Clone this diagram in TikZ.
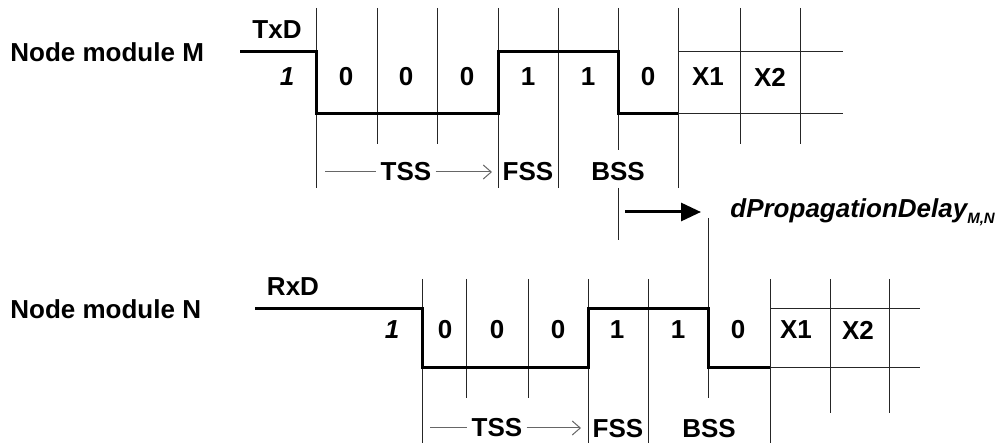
\documentclass[tikz,border=0pt]{standalone}
\usepackage{fontspec}
\setmainfont{Liberation Sans}
\usetikzlibrary{arrows.meta}
\tikzstyle{sig}=[line width=1.5pt]
\tikzstyle{grid}=[line width=0.5pt,draw=black!85]
\tikzstyle{span}=[line width=0.5pt,draw=black!60]
\tikzstyle{lbl}=[inner sep=0pt,font=\fontsize{13}{15}\selectfont\bfseries]
\tikzstyle{lvl}=[inner sep=0pt,font=\fontsize{13}{15}\selectfont\bfseries\itshape]

\begin{document}
\begin{tikzpicture}[x=0.5pt,y=-0.5pt]
		\useasboundingbox (0,0) rectangle (1003,443);

		% sender side
		\node [lbl,anchor=west] (modM) at (10,52) {Node module M};
		\node [lbl] (txd) at (277,30) {TxD};
		\node [lvl] (oneM) at (287,77) {1};
		\foreach \x/\yb in {316/188, 377/144, 437/144, 498/188, 558/188, 618/150, 678/188, 740/144, 800/144}
			\draw [grid] (\x,8) -- (\x,\yb);
		\draw [grid] (678,52) -- (843,52);
		\draw [grid] (678,114) -- (843,114);
		\draw [sig] (240,52) -| (316,114) -| (498,52) -| (618,114) -- (678,114);
		\foreach \x/\b [count=\i] in {346/0, 406/0, 467/0, 528/1, 588/1, 648/0, 708/X1, 770/X2}
			\node [lbl] (bM\i) at (\x,77) {\b};

		\node [lbl,inner sep=2pt] (tssM) at (406,172) {TSS};
		\coordinate (tssMl) at (325,172);
		\coordinate (tssMr) at (492,172);
		\draw [span] (tssMl) -- (tssM);
		\draw [span,-{Straight Barb[length=4pt,width=7pt]}] (tssM) -- (tssMr);
		\node [lbl] (fssM) at (528,172) {FSS};
		\node [lbl] (bssM) at (618,172) {BSS};

		% propagation delay
		\coordinate (dlyA) at (618,188);
		\coordinate (dlyB) at (618,240);
		\coordinate (dlyC) at (708,218);
		\coordinate (dlyD) at (708,398);
		\draw [grid] (dlyA) -- (dlyB);
		\draw [grid] (dlyC) -- (dlyD);
		\coordinate (arrA) at (625,212);
		\coordinate (arrB) at (701,212);
		\draw [sig,-{Triangle[length=10pt,width=9pt]}] (arrA) -- (arrB);
		\node [lvl,anchor=west] (dly) at (730,212) {dPropagationDelay\raisebox{-0.45ex}{\fontsize{7.5}{8}\selectfont M,N}};

		% receiver side
		\node [lbl,anchor=west] (modN) at (10,309) {Node module N};
		\node [lbl] (rxd) at (293,287) {RxD};
		\node [lvl] (oneN) at (392,330) {1};
		\foreach \x/\yb in {422/443, 466/398, 528/398, 588/443, 648/443, 770/443, 830/413, 889/413}
			\draw [grid] (\x,279) -- (\x,\yb);
		\draw [grid] (770,309) -- (920,309);
		\draw [grid] (770,368) -- (920,368);
		\draw [sig] (255,309) -| (422,368) -| (588,309) -| (708,368) -- (770,368);
		\foreach \x/\b [count=\i] in {445/0, 497/0, 558/0, 617/1, 678/1, 738/0, 796/X1, 858/X2}
			\node [lbl] (bN\i) at (\x,330) {\b};

		\node [lbl,inner sep=2pt] (tssN) at (497,428) {TSS};
		\coordinate (tssNl) at (430,428);
		\coordinate (tssNr) at (581,428);
		\draw [span] (tssNl) -- (tssN);
		\draw [span,-{Straight Barb[length=4pt,width=7pt]}] (tssN) -- (tssNr);
		\node [lbl] (fssN) at (618,429) {FSS};
		\node [lbl] (bssN) at (709,429) {BSS};
\end{tikzpicture}
\end{document}
